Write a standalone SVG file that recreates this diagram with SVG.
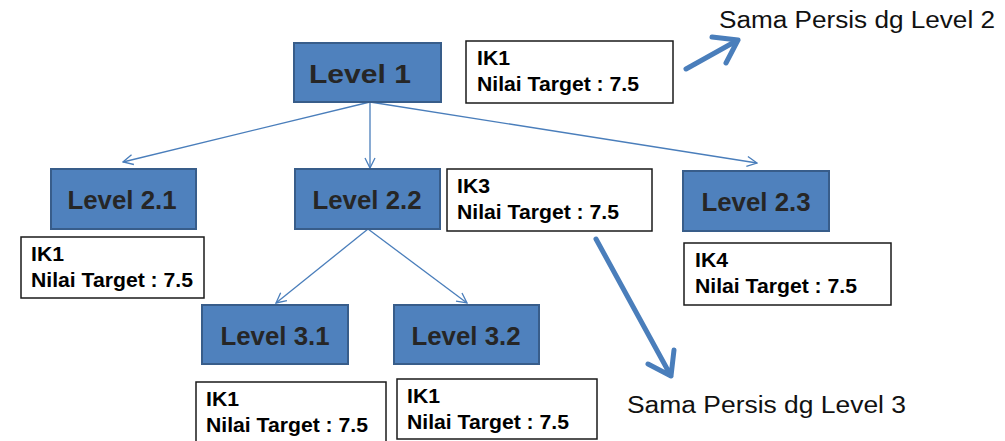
<svg xmlns="http://www.w3.org/2000/svg" width="1005" height="441" viewBox="0 0 1005 441">
<style>
.lvl{fill:#4f81bd;stroke:#385d8a;stroke-width:2}
.lt{font-family:"Liberation Sans",Arial,sans-serif;font-weight:bold;font-size:25px;fill:#262626;text-anchor:middle}
.ik{fill:#fff;stroke:#1a1a1a;stroke-width:1.5}
.it{font-family:"Liberation Sans",Arial,sans-serif;font-weight:bold;font-size:20px;fill:#000}
.thin{fill:none;stroke:#4a7ebb;stroke-width:1.3}
.thick{fill:none;stroke:#4a7ebb;stroke-width:5;stroke-linecap:round;stroke-linejoin:round}
.note{font-family:"Liberation Sans",Arial,sans-serif;font-size:23px;fill:#111}
</style>
<defs>
<marker id="open" viewBox="0 0 12 12" refX="11" refY="6" markerWidth="12" markerHeight="12" markerUnits="userSpaceOnUse" orient="auto">
<path d="M1,1 L11,6 L1,11" fill="none" stroke="#4a7ebb" stroke-width="1.3"/>
</marker>
</defs>
<g id="connectors">
<line class="thin" x1="370" y1="102" x2="123" y2="162" marker-end="url(#open)"/>
<line class="thin" x1="370" y1="102" x2="370" y2="168" marker-end="url(#open)"/>
<line class="thin" x1="370" y1="102" x2="757" y2="163" marker-end="url(#open)"/>
<line class="thin" x1="368" y1="229" x2="276" y2="303" marker-end="url(#open)"/>
<line class="thin" x1="368" y1="229" x2="467" y2="303" marker-end="url(#open)"/>
<path class="thick" d="M686,69 L738,40 M712,37 L738,40 L726,63"/>
<path class="thick" d="M596,239 L671,376 M674,350 L671,376 L648,364"/>
</g>
<g id="level1"><rect class="lvl" x="294" y="43" width="147" height="59"/><text class="lt" x="360" y="83" font-size="28" textLength="102" lengthAdjust="spacingAndGlyphs">Level 1</text></g>
<g id="level21"><rect class="lvl" x="51" y="169" width="145" height="60"/><text class="lt" x="122" y="209" textLength="109" lengthAdjust="spacingAndGlyphs">Level 2.1</text></g>
<g id="level22"><rect class="lvl" x="295" y="169" width="145" height="60"/><text class="lt" x="367" y="209" textLength="109" lengthAdjust="spacingAndGlyphs">Level 2.2</text></g>
<g id="level23"><rect class="lvl" x="683" y="171" width="146" height="60"/><text class="lt" x="756" y="211" textLength="109" lengthAdjust="spacingAndGlyphs">Level 2.3</text></g>
<g id="level31"><rect class="lvl" x="202" y="305" width="146" height="59"/><text class="lt" x="275" y="345" textLength="109" lengthAdjust="spacingAndGlyphs">Level 3.1</text></g>
<g id="level32"><rect class="lvl" x="394" y="305" width="145" height="59"/><text class="lt" x="466" y="345" textLength="109" lengthAdjust="spacingAndGlyphs">Level 3.2</text></g>
<g id="ik-top"><rect class="ik" x="466" y="41" width="207" height="62"/><text class="it" x="477" y="65" textLength="33" lengthAdjust="spacingAndGlyphs">IK1</text><text class="it" x="477" y="91" textLength="162" lengthAdjust="spacingAndGlyphs">Nilai Target : 7.5</text></g>
<g id="ik-21"><rect class="ik" x="21" y="237" width="183" height="61"/><text class="it" x="31" y="261" textLength="33" lengthAdjust="spacingAndGlyphs">IK1</text><text class="it" x="31" y="287" textLength="162" lengthAdjust="spacingAndGlyphs">Nilai Target : 7.5</text></g>
<g id="ik-22"><rect class="ik" x="447" y="169" width="205" height="62"/><text class="it" x="457" y="193" textLength="33" lengthAdjust="spacingAndGlyphs">IK3</text><text class="it" x="457" y="219" textLength="162" lengthAdjust="spacingAndGlyphs">Nilai Target : 7.5</text></g>
<g id="ik-23"><rect class="ik" x="684" y="243" width="207" height="62"/><text class="it" x="695" y="267" textLength="33" lengthAdjust="spacingAndGlyphs">IK4</text><text class="it" x="695" y="293" textLength="162" lengthAdjust="spacingAndGlyphs">Nilai Target : 7.5</text></g>
<g id="ik-31"><rect class="ik" x="196" y="382" width="190" height="62"/><text class="it" x="206" y="406" textLength="33" lengthAdjust="spacingAndGlyphs">IK1</text><text class="it" x="206" y="432" textLength="162" lengthAdjust="spacingAndGlyphs">Nilai Target : 7.5</text></g>
<g id="ik-32"><rect class="ik" x="397" y="379" width="200" height="60"/><text class="it" x="407" y="403" textLength="33" lengthAdjust="spacingAndGlyphs">IK1</text><text class="it" x="407" y="429" textLength="162" lengthAdjust="spacingAndGlyphs">Nilai Target : 7.5</text></g>
<g id="note-2"><text class="note" x="719" y="28" textLength="276" lengthAdjust="spacingAndGlyphs">Sama Persis dg Level 2</text></g>
<g id="note-3"><text class="note" x="627" y="413" textLength="279" lengthAdjust="spacingAndGlyphs">Sama Persis dg Level 3</text></g>
</svg>
